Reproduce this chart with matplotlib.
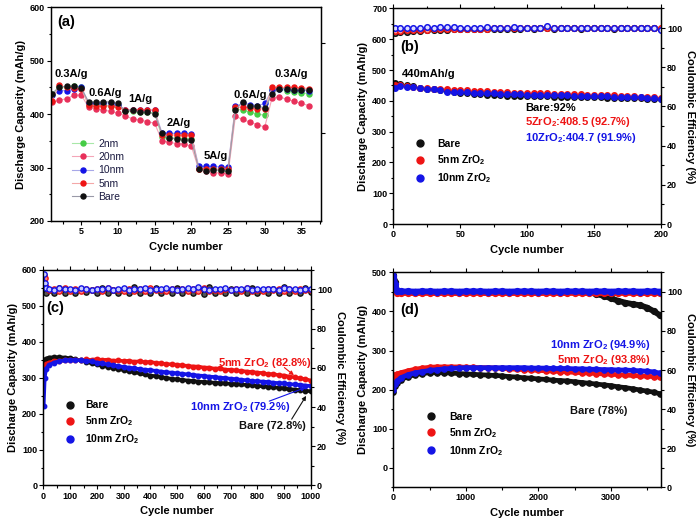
import matplotlib
matplotlib.use("Agg")
import matplotlib.pyplot as plt
from matplotlib.ticker import MultipleLocator
from matplotlib.lines import Line2D

plt.rcParams['font.family'] = 'Liberation Sans'
plt.rcParams['font.weight'] = 'bold'
plt.rcParams['axes.labelweight'] = 'bold'
plt.rcParams['mathtext.fontset'] = 'custom'
plt.rcParams['mathtext.rm'] = 'Liberation Sans:bold'
plt.rcParams['mathtext.default'] = 'rm'
plt.rcParams['axes.linewidth'] = 0.9

# ---------------- (a) rate capability ----------------
cycles_a = list(range(1, 37))
nm2_a = [437, 450, 451, 453, 450, 418, 418, 417, 416, 415, 405, 405, 404, 404, 402, 357, 356, 355,
         354, 353, 298, 297, 297, 296, 296, 410, 407, 404, 400, 398, 447, 447, 444, 442, 440, 438]
nm20_a = [422, 426, 429, 435, 436, 413, 410, 408, 405, 402, 397, 391, 389, 386, 383, 350, 347, 345,
          344, 340, 297, 294, 290, 290, 288, 396, 390, 385, 380, 376, 431, 432, 428, 424, 420, 416]
nm10_a = [435, 444, 444, 447, 451, 421, 421, 421, 421, 418, 408, 408, 408, 408, 407, 365, 364, 364,
          364, 362, 302, 302, 302, 301, 301, 415, 420, 418, 416, 420, 446, 447, 447, 446, 445, 444]
nm5_a = [425, 454, 450, 449, 448, 417, 416, 415, 415, 414, 407, 408, 408, 408, 408, 360, 361, 361,
         361, 361, 298, 298, 297, 297, 297, 413, 413, 412, 410, 410, 450, 450, 450, 450, 449, 448]
bare_a = [438, 451, 452, 452, 449, 423, 423, 423, 423, 420, 406, 408, 404, 404, 400, 364, 355, 354,
          352, 352, 298, 293, 295, 295, 294, 408, 423, 415, 415, 412, 437, 448, 448, 446, 446, 445]
labels_a = ['2nm', '20nm', '10nm', '5nm', 'Bare']
rate_labels = ['0.3A/g', '0.6A/g', '1A/g', '2A/g', '5A/g', '0.6A/g', '0.3A/g']
rate_x = [3.6, 8.3, 13.0, 18.3, 23.3, 28.0, 33.6]
rate_y = [476, 440, 428, 384, 322, 436, 475]

# ---------------- (b) 200 cycles ----------------
cycles_b = [1] + list(range(5, 201, 5))
bare_b = [458, 456, 451, 447, 443, 440, 437, 434, 431, 428, 426, 424, 422, 421, 420, 419, 418, 417,
          417, 416, 416, 416, 415, 415, 414, 414, 413, 413, 412, 412, 411, 411, 410, 410, 409, 409,
          408, 408, 407, 406, 405]
nm5_b = [452, 450, 447, 445, 443, 441, 439, 438, 437, 436, 435, 434, 433, 432, 431, 430, 429, 428,
         427, 427, 426, 425, 425, 424, 423, 423, 422, 422, 421, 420, 420, 419, 418, 418, 417, 416,
         415, 414, 413, 411, 409]
nm10_b = [442, 447, 446, 444, 442, 440, 438, 436, 428, 430, 429, 428, 427, 426, 425, 424, 423, 422,
          421, 421, 420, 420, 419, 419, 419, 418, 418, 417, 417, 416, 416, 415, 415, 414, 413, 413,
          412, 411, 410, 408, 405]
ce_bare_b = [97.6, 97.9, 98.2, 98.4, 98.6, 98.8, 99.0, 99.1, 99.2, 99.3, 99.4, 99.5, 99.5, 99.6,
             99.6, 99.7, 99.7, 99.6, 99.7, 99.7, 99.8, 99.7, 99.8, 99.8, 99.7, 99.8, 99.8, 99.8,
             99.7, 99.8, 99.8, 99.8, 99.8, 99.7, 99.8, 99.8, 99.8, 99.8, 99.8, 99.8, 99.7]
ce_5_b = [98.4, 98.6, 98.8, 99.0, 99.1, 99.2, 99.3, 99.4, 99.5, 99.5, 99.6, 99.6, 99.7, 99.7, 99.7,
          99.8, 99.8, 99.8, 99.8, 99.8, 99.9, 99.9, 99.9, 99.9, 99.9, 99.9, 99.9, 99.9, 99.9, 99.9,
          99.9, 99.9, 99.9, 99.9, 99.9, 99.9, 99.9, 99.9, 99.9, 99.9, 99.9]
ce_10_b = [100.0, 100.1, 100.0, 100.2, 100.1, 100.3, 100.2, 100.4, 100.6, 100.5, 100.2, 100.1,
           100.0, 100.1, 100.6, 100.1, 100.0, 100.2, 100.3, 100.1, 100.0, 100.1, 100.2, 100.8,
           100.1, 100.0, 100.2, 100.1, 100.0, 100.1, 100.2, 100.1, 100.0, 100.1, 100.2, 100.1,
           100.0, 100.1, 100.0, 99.9, 99.2]

# ---------------- (c) 1000 cycles ----------------
cycles_c = [1, 5, 10] + list(range(20, 1001, 20))
bare_c = [345, 350, 353, 356, 357, 357, 356, 354, 351, 348,
          344, 340, 337, 333, 330, 327, 324, 321, 318, 315,
          312, 309, 306, 304, 302, 299, 297, 295, 294, 292,
          291, 289, 288, 287, 286, 285, 284, 283, 282, 281,
          280, 279, 277, 276, 275, 273, 272, 270, 268, 267,
          265, 264, 262]
nm5_c = [322, 332, 338, 342, 345, 347, 348, 349, 350, 348,
         351, 349, 352, 349, 350, 347, 348, 346, 347, 344,
         346, 343, 344, 341, 340, 338, 337, 336, 334, 333,
         331, 331, 328, 328, 325, 326, 322, 322, 320, 319,
         317, 316, 314, 313, 310, 310, 307, 306, 303, 301,
         298, 296, 292]
nm10_c = [220, 300, 325, 335, 342, 346, 348, 349, 349, 348,
          347, 345, 342, 340, 337, 335, 332, 330, 328, 326,
          324, 322, 321, 319, 317, 315, 314, 312, 311, 309,
          308, 306, 305, 303, 302, 300, 299, 297, 296, 294,
          293, 291, 290, 289, 288, 286, 285, 284, 282, 281,
          280, 278, 277]
ce_bare_c = [101.0, 99.5, 98.4, 99.8, 98.2, 100.6, 98.3, 99.9, 98.1, 100.4,
             98.5, 99.6, 98.2, 100.8, 98.3, 99.7, 98.2, 100.3, 98.4, 101.2,
             98.2, 99.8, 98.3, 100.5, 98.2, 99.9, 98.4, 100.6, 98.2, 99.7,
             98.3, 100.9, 97.9, 101.3, 98.2, 99.8, 98.3, 100.4, 98.2, 99.6,
             98.4, 100.7, 98.2, 99.9, 98.3, 100.2, 98.2, 101.0, 98.4, 99.8,
             98.2, 100.5, 98.6]
ce_5_c = [107.5, 106.0, 101.0, 99.6, 100.2, 99.2, 100.6, 99.4, 100.1, 99.0,
          100.4, 99.5, 100.0, 99.1, 100.5, 99.6, 99.9, 99.2, 100.3, 99.4,
          100.1, 99.0, 100.6, 99.5, 99.9, 99.2, 100.4, 99.6, 100.0, 99.1,
          100.2, 99.4, 100.5, 99.3, 99.9, 99.0, 100.3, 99.5, 100.1, 99.2,
          100.6, 99.4, 99.9, 99.1, 100.2, 99.5, 100.0, 99.3, 100.4, 99.2,
          100.1, 99.5, 99.8]
ce_10_c = [108.0, 103.5, 100.8, 100.2, 99.8, 100.5, 100.0, 100.3, 99.7, 100.6,
           100.1, 99.9, 100.4, 100.0, 100.7, 99.8, 100.2, 100.5, 99.9, 100.3,
           100.0, 100.6, 99.8, 100.2, 100.4, 100.9, 100.1, 99.9, 100.3, 100.5,
           100.0, 101.2, 100.2, 99.8, 100.4, 100.1, 100.6, 99.9, 100.3, 100.0,
           100.5, 99.8, 100.2, 100.4, 100.0, 100.3, 99.9, 100.6, 100.1, 100.2,
           99.8, 100.4, 100.0]

# ---------------- (d) long cycling ----------------
cycles_d = [1, 25, 50] + list(range(100, 3601, 100)) + [3680]
bare_d = [193, 208, 216, 225, 233, 238, 241, 243, 243, 243,
          242, 241, 240, 239, 238, 237, 236, 235, 233, 232,
          230, 229, 227, 226, 224, 223, 222, 220, 218, 216,
          214, 212, 210, 207, 205, 202, 199, 196, 193, 189]
nm5_d = [232, 238, 240, 243, 248, 252, 255, 257, 258, 258,
         258, 258, 257, 257, 256, 256, 255, 254, 253, 252,
         251, 250, 249, 248, 247, 246, 245, 244, 243, 242,
         241, 240, 239, 238, 237, 236, 235, 234, 233, 232]
nm10_d = [200, 215, 222, 230, 238, 243, 246, 249, 251, 253,
          254, 255, 256, 256, 256, 256, 256, 256, 256, 256,
          256, 255, 255, 255, 254, 254, 254, 253, 253, 252,
          252, 251, 251, 250, 250, 249, 248, 247, 245, 242]
ce_bare_d = [108.5, 105.0, 100.2, 100.0, 100.0, 100.0, 100.0, 100.0, 100.0, 100.0,
             100.0, 100.0, 100.0, 100.0, 100.0, 100.0, 100.0, 100.0, 100.0, 100.0,
             100.0, 100.0, 100.0, 100.0, 100.0, 100.0, 100.0, 100.0, 100.0, 99.8,
             99.0, 98.0, 96.8, 95.5, 94.5, 93.8, 93.2, 92.0, 90.0, 88.0]
ce_5_d = [106.0, 102.0, 99.6, 99.5, 99.5, 99.4, 99.5, 99.5, 99.4, 99.5,
          99.5, 99.4, 99.5, 99.5, 99.5, 99.4, 99.5, 99.5, 99.4, 99.5,
          99.5, 99.5, 99.4, 99.5, 99.5, 99.4, 99.5, 99.5, 99.5, 99.4,
          99.5, 99.5, 99.4, 99.5, 99.5, 99.5, 99.4, 99.5, 99.5, 99.4]
ce_10_d = [108.0, 104.0, 100.6, 100.3, 100.3, 100.2, 100.3, 100.3, 100.2, 100.3,
           100.3, 100.2, 100.3, 100.3, 100.3, 100.2, 100.3, 100.3, 100.2, 100.3,
           100.3, 100.3, 100.2, 100.3, 100.3, 100.2, 100.3, 100.3, 100.3, 100.2,
           100.3, 100.3, 100.2, 100.3, 100.3, 100.3, 100.2, 100.3, 100.3, 100.2]

labels_zr = ['Bare', '5nm ZrO$_2$', '10nm ZrO$_2$']

BLACK = '#111111'
RED = '#ee1414'
BLUE = '#1414e6'
GREEN = '#45cc45'
PINK = '#e8305a'


def style_axis(ax, xmaj, xmin, ymaj, ymin, top=True):
    ax.xaxis.set_major_locator(MultipleLocator(xmaj))
    ax.xaxis.set_minor_locator(MultipleLocator(xmin))
    ax.yaxis.set_major_locator(MultipleLocator(ymaj))
    ax.yaxis.set_minor_locator(MultipleLocator(ymin))
    ax.tick_params(which='both', direction='out', width=0.8, labelsize=6.5, top=top, pad=1.5)
    ax.tick_params(which='major', length=3)
    ax.tick_params(which='minor', length=1.8)
    ax.set_xlabel('Cycle number', fontsize=8, labelpad=4)
    ax.set_ylabel('Discharge Capacity (mAh/g)', fontsize=8, labelpad=3)


def style_twin(tw):
    tw.set_ylim(0, 110)
    tw.yaxis.set_major_locator(MultipleLocator(20))
    tw.yaxis.set_minor_locator(MultipleLocator(10))
    tw.tick_params(which='both', direction='out', width=0.8, labelsize=6.5, pad=1.5)
    tw.tick_params(which='major', length=3)
    tw.tick_params(which='minor', length=1.8)
    tw.set_ylabel('Coulombic Efficiency (%)', fontsize=8, rotation=270, labelpad=9)


def zr_legend(ax, anchor, pad):
    handles = [Line2D([], [], ls='none', marker='o', ms=5, mfc=c, mec=c)
               for c in (BLACK, RED, BLUE)]
    ax.legend(handles, labels_zr, loc='upper left', bbox_to_anchor=anchor, frameon=False,
              fontsize=7.5, handlelength=1.0, handletextpad=pad, labelspacing=0.4,
              borderpad=0, borderaxespad=0)


fig = plt.figure(figsize=(7, 5.26), dpi=100)

# ---- panel (a)
ax_a = fig.add_axes([0.073, 0.580, 0.386, 0.406])
series_a = [nm2_a, nm20_a, nm10_a, nm5_a, bare_a]
mcols_a = [GREEN, PINK, BLUE, RED, BLACK]
lcols_a = ['#a8e8a8', '#f4a6b8', '#a8a8e8', '#f4a8a8', '#9a9aa8']
for vals, mc, lc, lab in zip(series_a, mcols_a, lcols_a, labels_a):
    ax_a.plot(cycles_a, vals, '-', color=lc, lw=0.8, marker='o', ms=3.6, mfc=mc, mec=mc,
              label=lab)
ax_a.set_xlim(0.9, 37.7)
ax_a.set_ylim(200, 600)
style_axis(ax_a, 5, 2.5, 100, 50, top=False)
for lab, x, y in zip(rate_labels, rate_x, rate_y):
    ax_a.text(x, y, lab, fontsize=8, ha='center', va='center')
ax_a.text(2.9, 572, '(a)', fontsize=10.5, ha='center', va='center')
leg_a = ax_a.legend(loc='upper left', bbox_to_anchor=(0.078, 0.385), frameon=False,
                    prop={'weight': 'normal', 'size': 7.5}, handlelength=2.0,
                    handletextpad=0.5, labelspacing=0.32, borderpad=0, borderaxespad=0)
for t in leg_a.get_texts():
    t.set_color('#1a1a40')
tw_a = ax_a.twinx()
tw_a.set_ylim(ax_a.get_ylim())
tw_a.set_yticks([365, 533])
tw_a.set_yticklabels([])
tw_a.tick_params(direction='out', length=3, width=0.8)

# ---- panel (b)
ax_b = fig.add_axes([0.562, 0.574, 0.382, 0.410])
for vals, c in zip([bare_b, nm5_b, nm10_b], [BLACK, RED, BLUE]):
    ax_b.plot(cycles_b, vals, ls='none', marker='o', ms=4.0, mfc=c, mec=c)
ax_b.set_xlim(0, 200)
ax_b.set_ylim(0, 700)
style_axis(ax_b, 50, 25, 100, 50)
ax_b.text(12, 575, '(b)', fontsize=10.5, ha='center', va='center')
ax_b.text(6, 487, '440mAh/g', fontsize=8, ha='left', va='center')
ax_b.text(98.5, 378, 'Bare:92%', fontsize=8, ha='left', va='center')
ax_b.text(98.5, 332, '5ZrO$_2$:408.5 (92.7%)', fontsize=8, ha='left', va='center', color=RED)
ax_b.text(98.5, 281, '10ZrO$_2$:404.7 (91.9%)', fontsize=8, ha='left', va='center', color=BLUE)
zr_legend(ax_b, (0.081, 0.394), 1.1)
tw_b = ax_b.twinx()
for vals, c, fc in zip([ce_bare_b, ce_5_b, ce_10_b], [BLACK, RED, BLUE],
                       ['#777777', '#ff9a9a', '#dcdcff']):
    tw_b.plot(cycles_b, vals, ls='none', marker='o', ms=4.0, mfc=fc, mec=c, mew=1.1)
style_twin(tw_b)

# ---- panel (c)
ax_c = fig.add_axes([0.062, 0.077, 0.382, 0.410])
for vals, c in zip([bare_c, nm5_c, nm10_c], [BLACK, RED, BLUE]):
    ax_c.plot(cycles_c, vals, '-', color=c, lw=2.6, marker='o', ms=3.2, mfc=c, mec=c)
ax_c.set_xlim(0, 1000)
ax_c.set_ylim(0, 600)
style_axis(ax_c, 100, 50, 100, 50)
ax_c.text(44, 494, '(c)', fontsize=10.5, ha='center', va='center')
ax_c.text(829, 342, '5nm ZrO$_2$ (82.8%)', fontsize=8, ha='center', va='center', color=RED)
ax_c.text(736, 219, '10nm ZrO$_2$ (79.2%)', fontsize=8, ha='center', va='center', color=BLUE)
ax_c.text(858, 166, 'Bare (72.8%)', fontsize=8, ha='center', va='center', color=BLACK)
arrow_kw = dict(arrowstyle='-|>', lw=0.8, mutation_scale=6)
ax_c.annotate('', xy=(945, 302), xytext=(893, 333), arrowprops=dict(color=RED, **arrow_kw))
ax_c.annotate('', xy=(990, 275), xytext=(835, 232), arrowprops=dict(color=BLUE, **arrow_kw))
ax_c.annotate('', xy=(988, 256), xytext=(923, 178), arrowprops=dict(color=BLACK, **arrow_kw))
zr_legend(ax_c, (0.081, 0.395), 0.9)
tw_c = ax_c.twinx()
for vals, c, fc in zip([ce_bare_c, ce_5_c, ce_10_c], [BLACK, RED, BLUE],
                       ['#555555', '#ff8080', '#c8ccff']):
    tw_c.plot(cycles_c, vals, '-', color=c, lw=1.2, marker='o', ms=3.8, mfc=fc, mec=c, mew=1.0)
style_twin(tw_c)

# ---- panel (d)
ax_d = fig.add_axes([0.562, 0.074, 0.382, 0.408])
for vals, c in zip([bare_d, nm5_d, nm10_d], [BLACK, RED, BLUE]):
    ax_d.plot(cycles_d, vals, '-', color=c, lw=3.4, marker='o', ms=3.8, mfc=c, mec=c)
ax_d.set_xlim(0, 3690)
ax_d.set_ylim(-50, 500)
style_axis(ax_d, 1000, 500, 100, 50)
ax_d.text(221, 404, '(d)', fontsize=10.5, ha='center', va='center')
ax_d.text(2853, 314, '10nm ZrO$_2$ (94.9%)', fontsize=8, ha='center', va='center', color=BLUE)
ax_d.text(2908, 276, '5nm ZrO$_2$ (93.8%)', fontsize=8, ha='center', va='center', color=RED)
ax_d.text(2830, 145, 'Bare (78%)', fontsize=8, ha='center', va='center', color=BLACK)
zr_legend(ax_d, (0.122, 0.350), 1.2)
tw_d = ax_d.twinx()
for vals, c in zip([ce_bare_d, ce_5_d, ce_10_d], [BLACK, RED, BLUE]):
    tw_d.plot(cycles_d, vals, '-', color=c, lw=4.2, marker='o', ms=4.2, mfc=c, mec=c)
style_twin(tw_d)

fig.savefig('out.png', dpi=100)
